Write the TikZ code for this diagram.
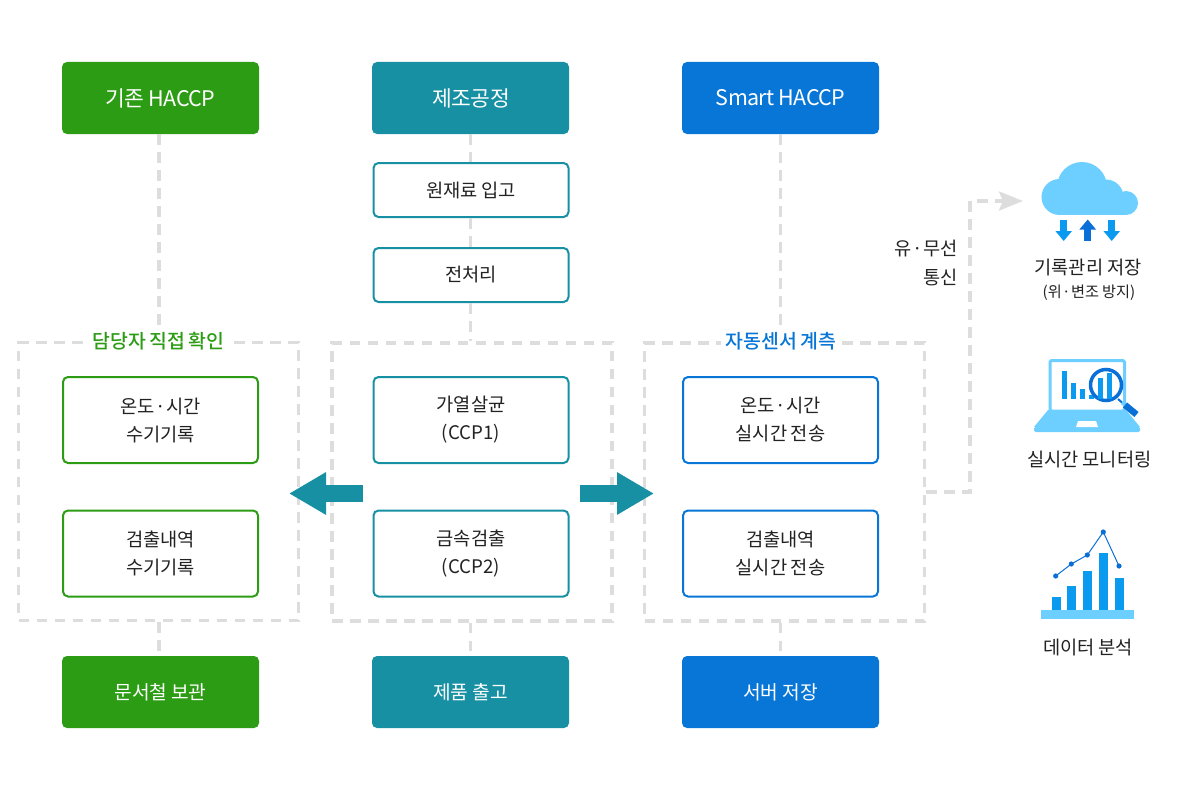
\documentclass[tikz,border=0pt]{standalone}
\usepackage{fontspec}
\setmainfont[WordSpace=0.9]{Noto Sans CJK KR}
\newfontfamily\titlefont[WordSpace=0.8]{Noto Sans CJK KR Medium}
\newfontfamily\headfont[WordSpace=1.0,LetterSpace=-3]{Noto Sans CJK KR}
\usetikzlibrary{arrows.meta,calc}
\definecolor{haccpgreen}{HTML}{2C9C14}
\definecolor{procteal}{HTML}{1790A3}
\definecolor{smartblue}{HTML}{0876D6}
\definecolor{guidegray}{HTML}{DDDDDD}
\definecolor{iconsky}{HTML}{6CCFFF}
\definecolor{iconblue}{HTML}{0A9BF0}
\definecolor{icondark}{HTML}{0A6FD6}
\definecolor{textdark}{HTML}{222222}
\newcommand{\midsep}{\hspace{0.4pt}·\hspace{0.4pt}}
\tikzset{
    headbox/.style={rounded corners=5, minimum width=197, minimum height=72, text=white,
        font=\headfont\fontsize{21.5}{24}\selectfont, inner sep=0},
    footbox/.style={headbox, font=\fontsize{19.2}{24}\selectfont},
    stepbox/.style={draw=#1, line width=2, fill=white, rounded corners=5, minimum width=195,
        text=textdark, font=\fontsize{18.7}{28}\selectfont, align=center, inner sep=0},
    framebox/.style={draw=guidegray, line width=3.5, dash pattern=on 10.5 off 7.5,
        minimum width=280, minimum height=278, inner sep=0},
    guide/.style={draw=guidegray, line width=3.5, dash pattern=on 10.5 off 7.5},
    frametitle/.style={fill=white, inner xsep=5, inner ysep=1, font=\titlefont\fontsize{19.4}{22}\selectfont},
    sidelabel/.style={text=textdark, font=\fontsize{18.7}{29}\selectfont, align=center, inner sep=0},
    bigarrow/.style={draw=procteal, line width=17, -{Triangle[length=37,width=40]}},
    smallarrow/.style={draw=#1, line width=7.5, -{Triangle[length=10,width=16]}},
}
\begin{document}
\begin{tikzpicture}[x=1pt,y=-1pt]
    \useasboundingbox (0,0) rectangle (1200,800);

    % Dashed frames
    \node[framebox] (frmLeft) at (158.5,481.5) {};
    \node[framebox] (frmMid) at (472,482) {};
    \node[framebox] (frmRight) at (784.5,482) {};
    \node[frametitle, text=haccpgreen] (titleLeft) at (158.5,341) {담당자 직접 확인};
    \node[frametitle, text=smartblue] (titleRight) at (781,341) {자동센서 계측};

    % Top and bottom boxes
    \node[headbox, fill=haccpgreen] (topLeft) at (160.5,98) {기존 HACCP};
    \node[headbox, fill=procteal] (topMid) at (470.5,98) {\hspace{1.5pt}제조공정};
    \node[headbox, fill=smartblue] (topRight) at (780.5,98) {Smart HACCP};
    \node[footbox, fill=haccpgreen] (botLeft) at (160.5,692) {문서철 보관};
    \node[footbox, fill=procteal] (botMid) at (470.5,692) {제품 출고};
    \node[footbox, fill=smartblue] (botRight) at (780.5,692) {서버 저장};

    % Process steps
    \node[stepbox=procteal, minimum height=54] (stepIn) at (471,190) {원재료 입고};
    \node[stepbox=procteal, minimum height=54] (stepPre) at (471,275) {전처리};
    \node[stepbox=haccpgreen, minimum height=86] (leftA) at (160.5,420) {온도\midsep 시간\\수기기록};
    \node[stepbox=haccpgreen, minimum height=86] (leftB) at (160.5,553.5) {검출내역\\수기기록};
    \node[stepbox=procteal, minimum height=86] (midA) at (471,420) {가열살균\\(CCP1)};
    \node[stepbox=procteal, minimum height=86] (midB) at (471,553.5) {금속검출\\(CCP2)};
    \node[stepbox=smartblue, minimum height=86] (rightA) at (780.5,420) {온도\midsep 시간\\실시간 전송};
    \node[stepbox=smartblue, minimum height=86] (rightB) at (780.5,553.5) {검출내역\\실시간 전송};

    % Guide lines
    \draw[guide] ($(topLeft.south)+(-1.5,0)$) -- ($(topLeft.south |- titleLeft.north)+(-1.5,0)$);
    \draw[guide] (topMid.south) -- (stepIn.north -| topMid.south);
    \draw[guide] (stepIn.south -| topMid.south) -- (stepPre.north -| topMid.south);
    \draw[guide] (stepPre.south -| topMid.south) -- (topMid.south |- frmMid.north);
    \draw[guide] (topRight.south) -- (topRight.south |- titleRight.north);
    \draw[guide] ($(botLeft.north |- frmLeft.south)+(-1.5,0)$) -- ($(botLeft.north)+(-1.5,0)$);
    \draw[guide] (botMid.north |- frmMid.south) -- (botMid.north);
    \draw[guide] (botRight.north |- frmRight.south) -- (botRight.north);

    % Arrows out of the process
    \coordinate (arrowMidL) at (363,493.5);
    \coordinate (arrowEndL) at (289,493.5);
    \coordinate (arrowMidR) at (580,493.5);
    \coordinate (arrowEndR) at (654,493.5);
    \draw[bigarrow] (arrowMidL) -- (arrowEndL);
    \draw[bigarrow] (arrowMidR) -- (arrowEndR);

    % Wire to the cloud
    \coordinate (wireTurn) at (970,492);
    \coordinate (wireEnd) at (1023,201);
    \draw[guide, -{Stealth[length=24,width=19,inset=4]}] (wireTurn -| frmRight.east) -- (wireTurn) |- (wireEnd);
    \node[sidelabel, align=right, anchor=east] (wireLabel) at (958,263) {유\midsep 무선\\통신};

    % Cloud icon
    \fill[iconsky] (1082,187) circle (25);
    \fill[iconsky] (1059.5,197) circle (18);
    \fill[iconsky] (1106,197) circle (17.5);
    \fill[iconsky] (1126,203) circle (12);
    \fill[iconsky] (1060,197) rectangle (1126,215);
    \draw[smallarrow=iconblue] (1063.7,219.5) -- (1063.7,241);
    \draw[smallarrow=icondark] (1087.7,241) -- (1087.7,219.5);
    \draw[smallarrow=iconblue] (1111.7,219.5) -- (1111.7,241);
    \node[sidelabel] (cloudLabel) at (1088,268) {기록관리 저장};
    \node[sidelabel, font=\fontsize{15.2}{18}\selectfont] (cloudNote) at (1089,292.5) {(위\midsep 변조 방지)};

    % Laptop icon
    \draw[iconsky, line width=3, rounded corners=1.5, fill=white] (1050,360.5) rectangle (1124.5,411);
    \fill[iconsky] (1048,410) -- (1126,410) -- (1140,427) -- (1034,427) -- cycle;
    \fill[iconsky, rounded corners=1.5] (1034,427) rectangle (1140,432);
    \fill[white] (1078,421) -- (1096,421) -- (1098,427) -- (1076,427) -- cycle;
    \foreach \x/\y in {1062/371,1071/383,1080/389,1089/395} {
        \fill[iconblue] (\x,\y) rectangle (\x+4.5,399);
    }
    \draw[icondark, line width=3.5, fill=white] (1106,385) circle (15.5);
    \foreach \x/\y in {1098/378,1107/373} {
        \fill[iconblue] (\x,\y) rectangle (\x+4.5,399);
    }
    \draw[icondark, line width=2] (1118,399) -- (1122,402.5);
    \draw[iconsky, line width=4] (1122,402.5) -- (1126,405.5);
    \draw[icondark, line width=6.5] (1125,405) -- (1136.5,414.5);
    \node[sidelabel] (laptopLabel) at (1089.5,460) {실시간 모니터링};

    % Chart icon
    \fill[iconsky] (1041,610) rectangle (1134,619);
    \foreach \x/\y in {1052/597,1067/586,1083/571,1099/553,1115/578} {
        \fill[iconblue] (\x,\y) rectangle (\x+8.7,610);
    }
    \draw[icondark, line width=1] (1055.7,576) -- (1071.3,564) -- (1087.3,555) -- (1103.3,532) -- (1119,566);
    \foreach \x/\y in {1055.7/576,1071.3/564,1087.3/555,1103.3/532,1119/566} {
        \fill[icondark] (\x,\y) circle (2.6);
    }
    \node[sidelabel] (chartLabel) at (1088,648) {데이터 분석};
\end{tikzpicture}
\end{document}
